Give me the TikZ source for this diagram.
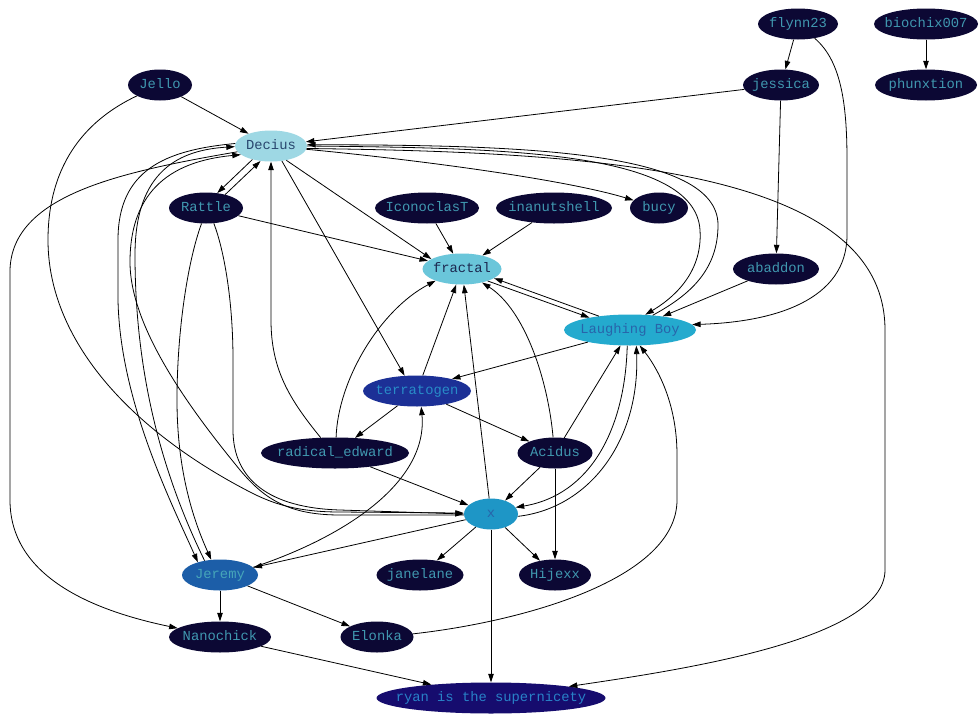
\documentclass[tikz,border=0pt]{standalone}
\usepackage{fontspec}
\setmonofont{Liberation Mono}
\usetikzlibrary{shapes.geometric,arrows.meta}
\definecolor{darknode}{RGB}{12,8,52}
\definecolor{tealtxt}{RGB}{64,152,176}
\definecolor{deciusc}{RGB}{158,216,228}
\definecolor{deciust}{RGB}{40,70,110}
\definecolor{fractalc}{RGB}{106,198,218}
\definecolor{fractalt}{RGB}{28,40,80}
\definecolor{lbc}{RGB}{36,170,206}
\definecolor{lbt}{RGB}{40,100,170}
\definecolor{terrac}{RGB}{28,48,150}
\definecolor{terrat}{RGB}{40,140,200}
\definecolor{xc}{RGB}{30,150,198}
\definecolor{xt}{RGB}{40,100,170}
\definecolor{jeremyc}{RGB}{28,94,168}
\definecolor{jeremyt}{RGB}{70,165,185}
\definecolor{ryanc}{RGB}{22,12,110}
\definecolor{ryant}{RGB}{40,130,200}
\newcommand{\nlab}[1]{\makebox[0pt]{\raisebox{-1.2pt}{\vphantom{Jg}#1}}}
\begin{document}
\begin{tikzpicture}[x=1pt,y=-1pt,
  nd/.style={ellipse, inner sep=0pt, minimum height=31pt, fill=darknode, text=tealtxt,
    font=\ttfamily\fontsize{13.8}{14}\selectfont},
  e/.style={-{Triangle[length=8.5pt,width=5.5pt]}, line width=0.8pt, black}]
\fill[white] (0,0) rectangle (980,720);
\useasboundingbox (0,0) rectangle (980,720);

\node[nd, minimum width=80pt] (flynn23) at (798,24) {\nlab{flynn23}};
\node[nd, minimum width=104pt] (biochix) at (926,24) {\nlab{biochix007}};
\node[nd, minimum width=64pt] (Jello) at (160,85) {\nlab{Jello}};
\node[nd, minimum width=76pt] (jessica) at (781,85) {\nlab{jessica}};
\node[nd, minimum width=102pt] (phunxtion) at (926,85) {\nlab{phunxtion}};
\node[nd, minimum width=72pt, fill=deciusc, text=deciust] (Decius) at (271,146) {\nlab{Decius}};
\node[nd, minimum width=74pt] (Rattle) at (206,208) {\nlab{Rattle}};
\node[nd, minimum width=104pt] (Icon) at (427,208) {\nlab{IconoclasT}};
\node[nd, minimum width=116pt] (inan) at (554,208) {\nlab{inanutshell}};
\node[nd, minimum width=58pt] (bucy) at (659,208) {\nlab{bucy}};
\node[nd, minimum width=79pt, fill=fractalc, text=fractalt] (fractal) at (462,269) {\nlab{fractal}};
\node[nd, minimum width=86pt] (abaddon) at (776,269) {\nlab{abaddon}};
\node[nd, minimum width=132pt, fill=lbc, text=lbt] (LB) at (630,330) {\nlab{Laughing Boy}};
\node[nd, minimum width=108pt, fill=terrac, text=terrat] (terra) at (417,391) {\nlab{terratogen}};
\node[nd, minimum width=148pt] (radical) at (335,453) {\nlab{radical\_edward}};
\node[nd, minimum width=75pt] (Acidus) at (555,453) {\nlab{Acidus}};
\node[nd, minimum width=54pt, fill=xc, text=xt] (x) at (491,514) {\nlab{x}};
\node[nd, minimum width=76pt, fill=jeremyc, text=jeremyt] (Jeremy) at (220,575) {\nlab{Jeremy}};
\node[nd, minimum width=87pt] (janelane) at (420,575) {\nlab{janelane}};
\node[nd, minimum width=72pt] (Hijexx) at (555,575) {\nlab{Hijexx}};
\node[nd, minimum width=102pt] (Nanochick) at (220,637) {\nlab{Nanochick}};
\node[nd, minimum width=73pt] (Elonka) at (377,637) {\nlab{Elonka}};
\node[nd, minimum width=229pt, fill=ryanc, text=ryant] (ryan) at (491,698) {\nlab{ryan is the supernicety}};

\draw[e] (flynn23) -- (jessica);
\draw[e] (flynn23) .. controls (840,60) and (847,100) .. (847,160) -- (847,235) .. controls (847,300) and (775,322) .. (LB.5);
\draw[e] (biochix) -- (phunxtion);
\draw[e] (jessica) -- (Decius);
\draw[e] (jessica) -- (abaddon);
\draw[e] (Jello) -- (Decius);
\draw[e] (Jello) .. controls (90,118) and (48,160) .. (48,240) .. controls (48,340) and (130,430) .. (250,492) .. controls (275,505) and (300,512) .. (340,512) -- (x.178);
\draw[e] (abaddon) -- (LB);
\draw[e] (Decius.216) -- (Rattle.53);
\draw[e] (Rattle.35) -- (Decius.235);
\draw[e] (Decius) .. controls (400,158) and (560,178) .. (bucy);
\draw[e] (Decius.-43) -- (fractal.162);
\draw[e] (Decius.-54) -- (terra.129);
\draw[e] (Decius.0) .. controls (500,148) and (695,150) .. (700,230) .. controls (703,275) and (670,300) .. (LB.45);
\draw[e] (LB.33) .. controls (690,295) and (718,270) .. (718,225) .. controls (718,150) and (520,145) .. (Decius.2);
\draw[e] (Decius.-4) .. controls (600,152) and (885,170) .. (885,330) -- (885,570) .. controls (885,640) and (680,670) .. (ryan);
\draw[e] (Decius) .. controls (120,172) and (12,195) .. (10,270) -- (10,500) .. controls (10,580) and (100,612) .. (Nanochick);
\draw[e] (Decius.176) .. controls (165,150) and (118,170) .. (118,240) -- (118,300) .. controls (120,400) and (170,500) .. (Jeremy.150);
\draw[e] (Jeremy.137) .. controls (165,480) and (135,380) .. (135,255) .. controls (135,170) and (180,150) .. (Decius.181);
\draw[e] (x.182) -- (340,515) .. controls (290,515) and (265,500) .. (240,470) .. controls (195,415) and (130,330) .. (130,262) .. controls (130,180) and (185,160) .. (Decius.196);
\draw[e] (Rattle.-106) .. controls (188,260) and (177,330) .. (177,400) .. controls (177,480) and (198,530) .. (Jeremy.120);
\draw[e] (Rattle.-63) .. controls (224,250) and (233,300) .. (233,360) -- (233,430) .. controls (233,480) and (270,508) .. (340,510) -- (x.180);
\draw[e] (Rattle) -- (fractal);
\draw[e] (Icon) -- (fractal);
\draw[e] (inan) -- (fractal);
\draw[e] (radical.133) .. controls (290,400) and (271,370) .. (271,320) -- (Decius);
\draw[e] (radical.86) .. controls (338,380) and (380,310) .. (fractal.204);
\draw[e] (terra) -- (fractal);
\draw[e] (x) -- (fractal);
\draw[e] (Acidus.97) .. controls (548,380) and (525,310) .. (fractal.-34);
\draw[e] (fractal.-25) -- (LB.163);
\draw[e] (LB.156) -- (fractal.-16);
\draw[e] (LB.196) -- (terra.19);
\draw[e] (terra) -- (radical);
\draw[e] (terra) -- (Acidus);
\draw[e] (Jeremy.13) .. controls (350,535) and (428,480) .. (terra.-75);
\draw[e] (Acidus) -- (LB);
\draw[e] (LB.-100) .. controls (625,430) and (590,495) .. (x.15);
\draw[e] (x.-5) .. controls (590,508) and (640,440) .. (LB.-68);
\draw[e] (Elonka.5) .. controls (520,622) and (677,580) .. (677,500) -- (677,455) .. controls (677,400) and (655,365) .. (LB.-58);
\draw[e] (Acidus) -- (x);
\draw[e] (Acidus) -- (Hijexx);
\draw[e] (x) -- (Hijexx);
\draw[e] (x) -- (janelane);
\draw[e] (x) -- (Jeremy);
\draw[e] (x) -- (ryan);
\draw[e] (radical) -- (x);
\draw[e] (Jeremy) -- (Nanochick);
\draw[e] (Jeremy) -- (Elonka);
\draw[e] (Nanochick) -- (ryan);
\end{tikzpicture}
\end{document}
